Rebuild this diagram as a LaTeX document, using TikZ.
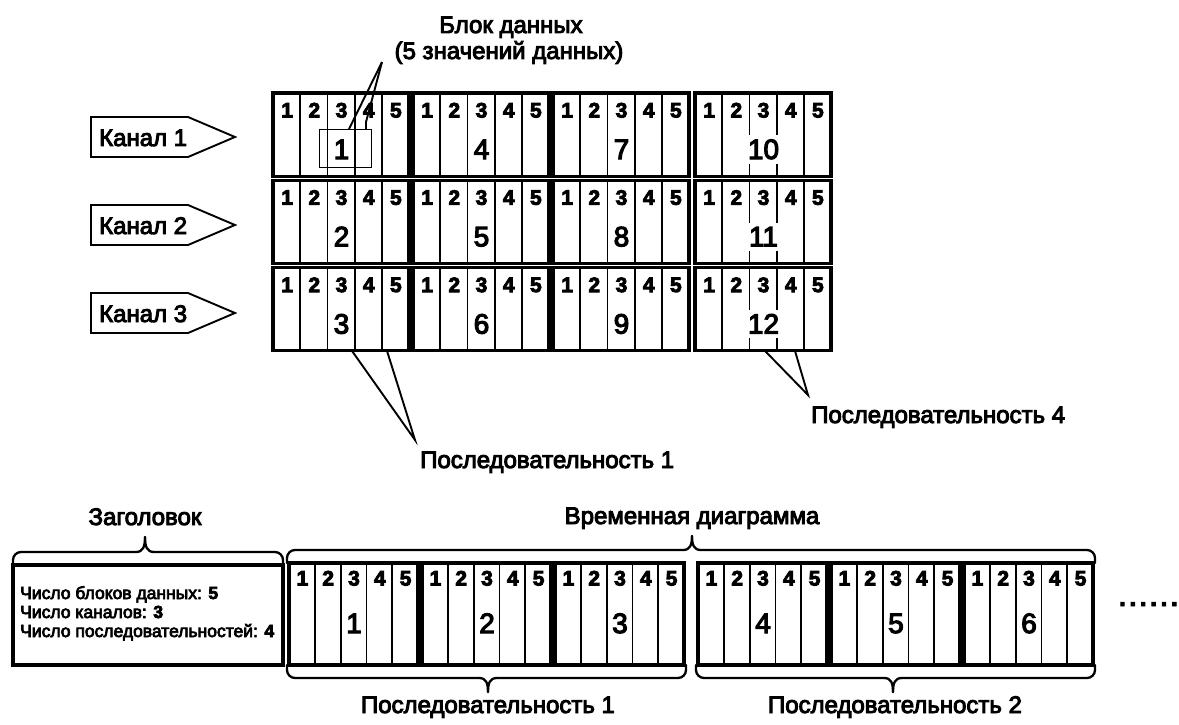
\documentclass[tikz,border=0pt]{standalone}
\usepackage{fontspec}
\setmainfont{Liberation Sans}[FakeBold=4]
\newcommand\datablk[8]{%
  \node[blk, minimum width=#4pt, minimum height=#5pt, anchor=north west] (#1) at (#2,#3) {};
  \foreach \k in {1,...,4} {\draw[divl] ({#2+\k*#4/5},#3) -- ({#2+\k*#4/5},{#3+#5});}
  \foreach \k in {1,...,5} {\node[cdig] (#1-d\k) at ({#2+(\k-0.5)*#4/5+0.5},{#3+#7}) {\k};}
  \node[bignum] (#1-n) at ({#2+2.5*#4/5+0.5},{#3+#8}) {#6};
}
\newcommand\brc[6]{%
  \draw[brc, rounded corners=8pt] (#1,#4) -- (#1,#5) -- ({#3-9},#5);
  \draw[brc, rounded corners=8pt] (#2,#4) -- (#2,#5) -- ({#3+9},#5);
  \draw[brc] ({#3-9},#5) .. controls ({#3-2},#5) and (#3,{#5+0.35*(#6-#5)}) .. (#3,#6);
  \draw[brc] ({#3+9},#5) .. controls ({#3+2},#5) and (#3,{#5+0.35*(#6-#5)}) .. (#3,#6);
}
\begin{document}
\begin{tikzpicture}[x=1pt,y=-1pt,
  blk/.style={draw, line width=3.1pt, inner sep=0pt, outer sep=0pt},
  divl/.style={line width=1.8pt},
  lbl/.style={font=\fontsize{24}{26}\selectfont, inner sep=0pt, anchor=base},
  cdig/.style={font=\bfseries\fontsize{21}{22}\selectfont, inner sep=0pt, anchor=base},
  bignum/.style={font=\fontsize{28}{30}\selectfont, fill=white, inner xsep=1pt, inner ysep=4.5pt, anchor=base},
  leader/.style={line width=1.9pt},
  brc/.style={line width=2.3pt, line cap=round, line join=round},
  chan/.style={line width=1.9pt, line join=miter},
  hdrtxt/.style={font=\fontsize{17.5}{19}\selectfont, inner sep=0pt, anchor=base west}
]
\useasboundingbox[fill=white] (0,0) rectangle (1179,725);

% ---- top grid ----
\foreach \c/\x in {1/273,2/413,3/553,4/695} {
  \foreach \r/\y in {1/93,2/180.3,3/267.6} {
    \pgfmathtruncatemacro\n{3*(\c-1)+round(\r)}
    \datablk{b\c\r}{\x}{\y}{136}{83.3}{\n}{24.5}{66}
  }
}

% channel arrows
\foreach \i/\yc in {1/137,2/225,3/313} {
  \draw[chan] (91,{\yc-20}) -- (188,{\yc-20}) -- (235,\yc) -- (188,{\yc+20}) -- (91,{\yc+20}) -- cycle;
  \node[lbl, anchor=base west] (ch\i) at (99,{\yc+9}) {Канал \i};
}

% data block label
\node[draw, line width=1.4pt, minimum width=52pt, minimum height=38pt, inner sep=0pt, anchor=north west] (blkbox) at (319,129) {};
\node[lbl] (blklab1) at (511,33) {Блок данных};
\node[lbl] (blklab2) at (509,59) {(5 значений данных)};
\coordinate (lbltip) at (382,62);
\draw[leader] (lbltip) -- ([xshift=30pt]blkbox.north west);
\draw[leader] (lbltip) -- ([xshift=47pt,yshift=7pt]blkbox.north west) -- ([xshift=47pt]blkbox.north west);

% sequence leaders
\coordinate (s1tip) at (415,440);
\draw[leader] ([xshift=79pt]b13.south west) -- (s1tip) -- ([xshift=114pt]b13.south west);
\node[lbl, anchor=base west] (s1lab) at (420,468) {Последовательность 1};
\coordinate (s4tip) at (808,395);
\draw[leader] ([xshift=70pt]b43.south west) -- (s4tip) -- ([xshift=100pt]b43.south west);
\node[lbl, anchor=base west] (s4lab) at (811,423) {Последовательность 4};

% ---- bottom time diagram ----
\node[blk, line width=3.1pt, minimum width=270pt, minimum height=100pt, anchor=north west] (hdr) at (13,565) {};
\node[hdrtxt] (h1) at (20,599) {Число блоков данных: \textbf{5}};
\node[hdrtxt] (h2) at (20,618) {Число каналов: \textbf{3}};
\node[hdrtxt] (h3) at (20,637) {Число последовательностей: \textbf{4}};

\foreach \i/\x in {1/289,2/422,3/555,4/698,5/831,6/964} {
  \datablk{t\i}{\x}{563}{129}{102}{\i}{22.5}{70}
}

\brc{13}{283}{145}{565}{552}{537}
\node[lbl] (hdrlab) at (145,525) {Заголовок};
\brc{287}{1095}{692}{563}{550}{536}
\node[lbl] (tdlab) at (692,524) {Временная диаграмма};
\brc{287}{686}{488}{665}{678}{692}
\node[lbl] (q1lab) at (488,713) {Последовательность 1};
\brc{696}{1095}{893}{665}{678}{692}
\node[lbl] (q2lab) at (895,713) {Последовательность 2};

\node[inner sep=0pt, anchor=base west, font=\bfseries\fontsize{24}{26}\selectfont] (dots) at (1119,606) {.\kern3.7pt.\kern3.7pt.\kern3.7pt.\kern3.7pt.\kern3.7pt.};
\end{tikzpicture}
\end{document}
